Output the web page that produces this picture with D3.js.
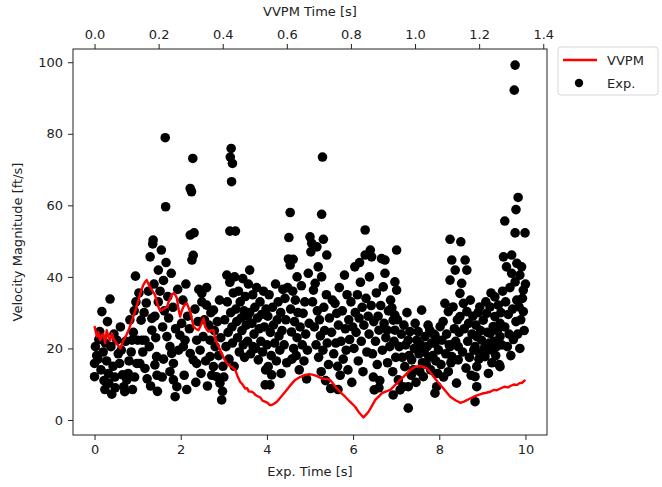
<!DOCTYPE html>
<html>
<head>
<meta charset="utf-8">
<script src="https://cdn.jsdelivr.net/npm/d3@7"></script>
<style>
  body { margin: 0; background: #fff; }
  svg text { font-family: "DejaVu Sans", sans-serif; fill: #222; }
</style>
</head>
<body>
<svg id="chart"></svg>
<script>
// VVPM simulation: [VVPM time (s), velocity (ft/s)]
const vvpmSeries = [
  [0.000, 26.3], [0.007, 23.3], [0.012, 24.5], [0.017, 22.3], [0.023, 23.8], [0.028, 24.0],
  [0.033, 21.5], [0.038, 25.1], [0.044, 23.0], [0.049, 22.3], [0.054, 24.2], [0.060, 22.5],
  [0.069, 21.4], [0.080, 20.0], [0.085, 21.0], [0.090, 22.3], [0.098, 23.5], [0.106, 25.1],
  [0.114, 27.0], [0.121, 28.9], [0.129, 31.0], [0.137, 33.5], [0.145, 36.0], [0.152, 37.7],
  [0.158, 38.6], [0.163, 39.1], [0.168, 38.0], [0.173, 37.2], [0.181, 36.0], [0.189, 34.9],
  [0.194, 33.0], [0.199, 31.6], [0.205, 30.5], [0.210, 30.7], [0.218, 31.2], [0.226, 31.6],
  [0.231, 33.0], [0.236, 34.0], [0.241, 35.0], [0.246, 35.4], [0.252, 35.0], [0.257, 34.0],
  [0.262, 31.0], [0.267, 28.9], [0.272, 30.5], [0.277, 31.6], [0.283, 32.4], [0.288, 32.6],
  [0.293, 31.5], [0.298, 30.3], [0.304, 28.0], [0.309, 26.1], [0.316, 25.5], [0.324, 25.1],
  [0.332, 26.5], [0.340, 28.4], [0.345, 26.1], [0.350, 25.3], [0.355, 24.7], [0.363, 25.0],
  [0.371, 25.1], [0.376, 23.0], [0.382, 21.4], [0.390, 20.0], [0.397, 18.6], [0.405, 17.0],
  [0.413, 15.8], [0.418, 15.4], [0.423, 15.1], [0.431, 14.6], [0.439, 14.0], [0.446, 12.3],
  [0.454, 10.7], [0.462, 9.9], [0.470, 8.8], [0.476, 8.9], [0.481, 8.0], [0.491, 7.9],
  [0.497, 7.5], [0.502, 7.0], [0.512, 6.5], [0.518, 6.2], [0.524, 5.4], [0.532, 5.1],
  [0.540, 4.8], [0.546, 4.2], [0.553, 4.2], [0.561, 4.6], [0.569, 5.1], [0.580, 6.3],
  [0.595, 7.9], [0.610, 9.6], [0.626, 11.2], [0.641, 12.0], [0.657, 12.6], [0.670, 12.8],
  [0.683, 12.6], [0.696, 12.2], [0.709, 11.6], [0.722, 11.5], [0.735, 11.2], [0.746, 10.0],
  [0.756, 8.8], [0.769, 7.6], [0.782, 6.5], [0.797, 5.1], [0.813, 3.7], [0.826, 2.0],
  [0.839, 0.7], [0.847, 1.5], [0.855, 2.3], [0.866, 4.0], [0.876, 5.6], [0.887, 6.6],
  [0.897, 7.5], [0.910, 8.0], [0.923, 8.4], [0.938, 9.8], [0.954, 11.2], [0.970, 12.6],
  [0.985, 14.0], [0.998, 14.7], [1.011, 15.1], [1.024, 14.9], [1.037, 14.4], [1.048, 13.3],
  [1.058, 12.1], [1.071, 10.6], [1.084, 9.3], [1.097, 7.9], [1.110, 6.5], [1.126, 5.5],
  [1.141, 4.8], [1.154, 5.2], [1.167, 5.8], [1.183, 6.5], [1.198, 7.0], [1.210, 7.4],
  [1.222, 7.6], [1.235, 7.9], [1.245, 8.4], [1.255, 8.3], [1.266, 8.8], [1.280, 9.3],
  [1.290, 9.1], [1.297, 9.5], [1.308, 9.9], [1.318, 9.8], [1.326, 10.3], [1.334, 10.4],
  [1.344, 11.2]
];

// Experiment: [exp time (s), velocity (ft/s)]
const expSeries = [
  [0.0,12.1],[0.0,15.8],[0.02,20.5],[0.05,18.0],[0.08,17.0],[0.1,22.5],[0.12,24.7],[0.15,14.0],
  [0.17,30.3],[0.2,19.0],[0.22,11.0],[0.24,8.5],[0.25,21.5],[0.28,16.5],[0.3,27.5],[0.32,13.0],
  [0.33,10.3],[0.36,33.8],[0.38,20.5],[0.4,7.2],[0.43,15.0],[0.45,24.0],[0.47,12.0],[0.48,9.0],
  [0.52,22.3],[0.55,18.5],[0.58,15.8],[0.6,26.0],[0.62,19.5],[0.65,12.6],[0.68,9.3],[0.7,7.9],
  [0.72,22.0],[0.75,11.2],[0.78,13.0],[0.8,16.5],[0.82,28.0],[0.85,19.0],[0.87,22.3],[0.88,8.5],
  [0.9,24.5],[0.92,30.5],[0.93,12.0],[0.95,40.2],[0.96,33.0],[0.98,15.8],
  [1.0,22.3],[1.03,35.5],[1.05,15.8],[1.08,27.9],[1.1,22.3],[1.12,19.0],[1.15,30.0],[1.17,14.4],
  [1.17,22.3],[1.2,32.7],[1.22,11.5],[1.25,36.0],[1.27,20.5],[1.29,45.6],[1.3,9.5],[1.33,28.4],
  [1.33,25.1],[1.35,49.2],[1.36,50.3],[1.38,38.0],[1.4,15.4],[1.4,29.0],[1.42,23.0],[1.44,17.7],
  [1.45,12.5],[1.46,8.0],[1.48,41.9],[1.48,33.0],
  [1.52,36.0],[1.55,47.5],[1.57,12.0],[1.58,26.0],[1.6,39.0],[1.6,17.0],[1.62,30.5],[1.64,78.9],
  [1.65,59.6],[1.66,44.0],[1.68,23.3],[1.7,34.5],[1.72,28.5],[1.75,20.5],[1.75,13.5],[1.78,41.0],
  [1.79,18.6],[1.82,31.5],[1.83,15.8],[1.83,11.2],[1.87,6.5],[1.88,25.5],[1.91,9.3],[1.93,36.5],
  [1.95,19.5],[1.98,23.7],
  [2.02,27.0],[2.05,33.5],[2.06,20.5],[2.08,12.5],[2.1,22.3],[2.12,38.0],[2.14,8.5],[2.16,29.0],
  [2.2,25.5],[2.22,64.7],[2.22,51.7],[2.22,18.6],[2.25,63.8],[2.26,44.7],[2.28,73.1],[2.29,46.0],
  [2.29,16.8],[2.31,52.3],[2.33,31.0],[2.35,10.5],[2.37,15.8],[2.37,22.3],[2.4,27.5],[2.42,36.5],
  [2.45,19.5],[2.47,13.0],[2.49,35.4],[2.49,33.0],
  [2.52,23.3],[2.55,28.0],[2.58,16.5],[2.6,32.1],[2.6,37.0],[2.62,9.5],[2.65,26.5],[2.68,22.3],
  [2.68,17.7],[2.7,30.0],[2.72,12.5],[2.76,30.7],[2.76,14.9],[2.78,25.0],[2.8,20.5],[2.83,12.1],
  [2.85,27.5],[2.88,18.0],[2.9,33.5],[2.91,10.3],[2.93,23.0],[2.95,5.6],[2.97,8.0],[2.98,15.0],
  [3.0,12.0],[3.02,28.0],[3.05,20.5],[3.07,40.5],[3.08,33.0],[3.1,24.5],[3.12,17.0],[3.14,38.5],
  [3.14,52.8],[3.15,73.5],[3.16,30.0],[3.17,75.9],[3.18,66.6],[3.19,26.0],[3.2,71.7],[3.2,21.5],
  [3.22,35.5],[3.24,15.0],[3.25,40.0],[3.27,52.8],[3.28,31.0],[3.3,27.5],[3.32,23.0],[3.34,36.0],
  [3.36,19.0],[3.38,33.0],[3.4,28.5],[3.42,25.0],[3.44,39.5],[3.45,21.0],[3.47,30.5],[3.48,17.5],
  [3.5,34.5],[3.52,26.5],[3.55,22.0],[3.55,29.0],[3.57,38.0],[3.6,41.9],[3.6,30.0],[3.62,18.5],
  [3.65,27.0],[3.67,35.0],[3.68,20.5],[3.7,24.0],[3.72,31.5],[3.74,20.0],[3.76,37.0],[3.78,28.5],
  [3.8,16.8],[3.82,25.5],[3.84,33.0],[3.86,22.0],[3.88,29.5],[3.9,19.0],[3.92,36.0],[3.94,26.0],
  [3.96,9.8],[3.97,14.0],[3.98,31.0],
  [4.0,21.0],[4.02,29.0],[4.03,14.9],[4.05,35.0],[4.07,9.8],[4.08,24.5],[4.1,18.0],[4.11,12.6],
  [4.13,31.5],[4.15,26.5],[4.18,21.5],[4.2,38.0],[4.22,16.5],[4.24,28.0],[4.26,33.0],[4.28,23.5],
  [4.3,19.5],[4.32,30.0],[4.33,13.0],[4.35,25.0],[4.37,36.5],[4.4,21.0],[4.42,34.0],[4.44,28.0],
  [4.46,16.0],[4.48,37.0],[4.5,45.0],
  [4.51,51.0],[4.54,58.0],[4.54,43.3],[4.55,31.0],[4.57,24.6],[4.58,17.0],[4.6,36.0],[4.61,44.9],
  [4.62,20.0],[4.64,27.5],[4.66,33.5],[4.68,18.0],[4.7,23.0],[4.7,40.0],[4.72,30.0],[4.75,14.0],
  [4.77,26.0],[4.8,37.5],[4.82,21.0],[4.84,29.8],[4.86,16.5],[4.88,33.0],[4.9,24.0],[4.92,11.5],
  [4.94,19.5],[4.96,41.0],[4.98,27.0],
  [5.0,51.2],[5.02,47.0],[5.04,49.4],[5.06,33.0],[5.08,36.3],[5.1,26.0],[5.12,38.2],[5.14,21.0],
  [5.16,48.4],[5.17,30.5],[5.19,42.8],[5.2,17.5],[5.22,28.0],[5.24,23.5],[5.26,13.5],[5.27,57.5],
  [5.27,40.0],[5.29,73.5],[5.3,19.5],[5.31,50.5],[5.32,31.5],[5.34,25.0],[5.36,11.0],[5.38,35.0],
  [5.39,46.1],[5.4,21.5],[5.43,15.5],[5.45,28.5],[5.48,8.8],
  [5.5,24.5],[5.52,33.5],[5.55,18.5],[5.58,32.6],[5.6,21.5],[5.62,29.8],[5.64,15.0],[5.65,8.5],
  [5.66,26.5],[5.68,37.0],[5.7,12.5],[5.72,22.0],[5.75,30.5],[5.77,17.0],[5.8,40.5],[5.82,25.5],
  [5.84,19.5],[5.86,35.0],[5.88,14.0],[5.9,28.0],[5.92,22.5],[5.95,33.0],[5.97,10.5],[5.99,26.0],
  [6.02,20.0],[6.04,42.8],[6.05,30.0],[6.07,24.5],[6.1,35.0],[6.12,16.5],[6.14,28.5],[6.15,44.0],
  [6.17,38.5],[6.19,22.0],[6.21,31.5],[6.23,13.5],[6.25,26.5],[6.28,53.1],[6.28,46.1],[6.3,34.0],
  [6.32,19.0],[6.35,29.0],[6.37,24.0],[6.38,40.0],[6.4,47.5],[6.42,32.0],[6.43,45.6],[6.45,18.5],
  [6.47,12.0],[6.48,27.5],[6.49,8.4],
  [6.52,22.0],[6.54,35.5],[6.56,15.5],[6.58,29.0],[6.6,25.1],[6.6,9.0],[6.62,11.0],[6.64,32.0],
  [6.66,45.1],[6.68,19.5],[6.7,37.2],[6.72,27.0],[6.74,44.7],[6.74,41.0],[6.76,23.0],[6.79,25.1],
  [6.8,16.0],[6.82,30.5],[6.85,20.5],[6.87,33.5],[6.9,31.3],[6.92,13.5],[6.93,27.9],[6.93,7.0],
  [6.95,22.0],[6.97,38.6],[6.97,29.3],[6.97,25.1],[6.99,17.5],
  [7.01,47.5],[7.01,36.3],[7.03,28.0],[7.05,11.2],[7.07,20.5],[7.09,8.4],[7.12,24.0],[7.14,17.5],
  [7.16,9.3],[7.18,26.5],[7.2,14.9],[7.22,21.0],[7.25,30.0],[7.28,3.3],[7.28,9.3],[7.28,22.3],
  [7.3,18.0],[7.32,24.7],[7.35,12.5],[7.36,16.8],[7.4,14.0],[7.42,20.0],[7.44,27.0],[7.46,10.5],
  [7.48,22.3],
  [7.51,24.7],[7.53,18.5],[7.55,13.5],[7.57,21.0],[7.59,30.7],[7.61,16.0],[7.63,12.1],[7.65,19.0],
  [7.67,23.3],[7.7,15.5],[7.72,20.5],[7.74,26.5],[7.76,17.5],[7.78,25.1],[7.8,14.0],[7.82,21.5],
  [7.85,18.0],[7.87,24.0],[7.9,23.7],[7.9,21.4],[7.9,7.5],[7.92,16.5],[7.94,9.3],[7.96,13.0],
  [7.98,19.6],
  [8.02,26.1],[8.04,15.5],[8.06,22.3],[8.09,27.5],[8.1,12.0],[8.13,32.6],[8.15,18.5],[8.17,24.0],
  [8.21,30.3],[8.21,13.5],[8.23,21.0],[8.25,50.5],[8.25,20.5],[8.25,39.1],[8.27,16.0],[8.29,44.7],
  [8.29,17.7],[8.32,31.6],[8.35,25.5],[8.37,41.9],[8.38,22.0],[8.4,10.3],[8.42,28.0],[8.44,20.5],
  [8.44,16.8],[8.46,24.5],[8.48,35.4],[8.48,28.9],
  [8.5,49.8],[8.52,38.2],[8.54,19.0],[8.56,32.6],[8.58,25.5],[8.6,44.7],[8.62,14.5],[8.64,41.9],
  [8.64,30.3],[8.66,22.0],[8.68,27.0],[8.7,17.5],[8.72,33.5],[8.74,12.5],[8.76,24.0],[8.78,29.0],
  [8.8,19.5],[8.83,20.5],[8.83,12.1],[8.83,5.1],[8.85,26.5],[8.87,23.3],[8.87,14.9],[8.87,9.3],
  [8.9,30.0],[8.92,17.0],[8.94,31.6],[8.94,18.6],[8.96,25.0],[8.98,22.3],
  [9.02,27.9],[9.04,20.0],[9.06,17.7],[9.08,33.0],[9.1,29.8],[9.12,24.5],[9.14,13.0],[9.16,21.5],
  [9.18,31.6],[9.18,24.2],[9.18,19.6],[9.2,35.5],[9.22,16.0],[9.25,26.1],[9.27,22.0],[9.29,34.4],
  [9.29,28.9],[9.31,18.0],[9.33,20.5],[9.35,25.0],[9.37,32.1],[9.39,15.5],[9.41,27.0],[9.41,23.3],
  [9.41,14.9],[9.43,30.0],[9.45,21.0],[9.47,36.0],[9.49,45.6],
  [9.52,55.6],[9.52,26.0],[9.54,33.0],[9.56,42.8],[9.58,20.5],[9.6,29.5],[9.62,24.0],[9.64,37.0],
  [9.66,18.0],[9.68,46.1],[9.68,41.0],[9.7,31.0],[9.72,22.5],[9.74,92.2],[9.76,99.2],[9.76,52.3],
  [9.76,38.6],[9.78,58.8],[9.78,27.5],[9.8,43.8],[9.8,33.5],[9.82,24.0],[9.83,62.2],[9.85,31.6],
  [9.87,40.5],[9.87,20.0],[9.89,28.0],[9.91,42.8],[9.93,34.0],[9.95,36.3],[9.95,30.3],[9.97,25.0],
  [9.99,52.3],[10.0,38.0]
];

const expTicks = [0, 2, 4, 6, 8, 10];
const vvpmTicks = [0.0, 0.2, 0.4, 0.6, 0.8, 1.0, 1.2, 1.4];
const yTicks = [0, 20, 40, 60, 80, 100];

const width = 662, height = 487;
const margin = { top: 49, right: 115, bottom: 52, left: 73 };
const innerW = width - margin.left - margin.right;
const innerH = height - margin.top - margin.bottom;

const svg = d3.select('#chart')
  .attr('width', width)
  .attr('height', height);

const g = svg.append('g')
  .attr('transform', `translate(${margin.left},${margin.top})`);

const x = d3.scaleLinear().domain([-0.5, 10.5]).range([0, innerW]);
const xTop = d3.scaleLinear().domain([-0.0672, 1.4117]).range([0, innerW]);
const y = d3.scaleLinear().domain([-4.2, 103.7]).range([innerH, 0]);

// scatter first, line on top
g.append('g')
  .selectAll('circle')
  .data(expSeries)
  .enter()
  .append('circle')
  .attr('cx', d => x(d[0]))
  .attr('cy', d => y(d[1]))
  .attr('r', 4.8)
  .attr('fill', '#000');

const line = d3.line()
  .x(d => xTop(d[0]))
  .y(d => y(d[1]));

g.append('path')
  .datum(vvpmSeries)
  .attr('d', line)
  .attr('fill', 'none')
  .attr('stroke', '#f00')
  .attr('stroke-width', 2.4)
  .attr('stroke-linejoin', 'round');

// axes
const styleAxis = sel => {
  sel.select('.domain').remove();
  sel.selectAll('.tick line').attr('stroke', '#222').attr('stroke-width', 1);
  sel.selectAll('.tick text').attr('font-size', 13).attr('fill', '#222');
};

g.append('g')
  .attr('transform', `translate(0,${innerH})`)
  .call(d3.axisBottom(x).tickValues(expTicks).tickSize(5).tickPadding(5))
  .call(styleAxis);

g.append('g')
  .call(d3.axisTop(xTop).tickValues(vvpmTicks).tickFormat(d3.format('.1f')).tickSize(5).tickPadding(5))
  .call(styleAxis);

g.append('g')
  .call(d3.axisLeft(y).tickValues(yTicks).tickSize(5).tickPadding(5))
  .call(styleAxis);

g.append('rect')
  .attr('width', innerW)
  .attr('height', innerH)
  .attr('fill', 'none')
  .attr('stroke', '#222')
  .attr('stroke-width', 1);

// labels
svg.append('text')
  .attr('x', margin.left + innerW / 2)
  .attr('y', 476)
  .attr('text-anchor', 'middle')
  .attr('font-size', 13)
  .text('Exp. Time [s]');

svg.append('text')
  .attr('x', margin.left + innerW / 2)
  .attr('y', 16)
  .attr('text-anchor', 'middle')
  .attr('font-size', 13)
  .text('VVPM Time [s]');

svg.append('text')
  .attr('transform', `translate(22,${margin.top + innerH / 2}) rotate(-90)`)
  .attr('text-anchor', 'middle')
  .attr('font-size', 13)
  .text('Velocity Magnitude [ft/s]');

// legend
const legend = svg.append('g').attr('transform', 'translate(558,47)');
legend.append('rect')
  .attr('width', 100)
  .attr('height', 48)
  .attr('rx', 3)
  .attr('fill', '#fff')
  .attr('stroke', '#d6d6d6');
legend.append('line')
  .attr('x1', 5).attr('x2', 39)
  .attr('y1', 13).attr('y2', 13)
  .attr('stroke', '#f00')
  .attr('stroke-width', 2.4);
legend.append('text')
  .attr('x', 49).attr('y', 18)
  .attr('font-size', 13)
  .text('VVPM');
legend.append('circle')
  .attr('cx', 21).attr('cy', 36)
  .attr('r', 4.2)
  .attr('fill', '#000');
legend.append('text')
  .attr('x', 49).attr('y', 41)
  .attr('font-size', 13)
  .text('Exp.');
</script>
</body>
</html>
